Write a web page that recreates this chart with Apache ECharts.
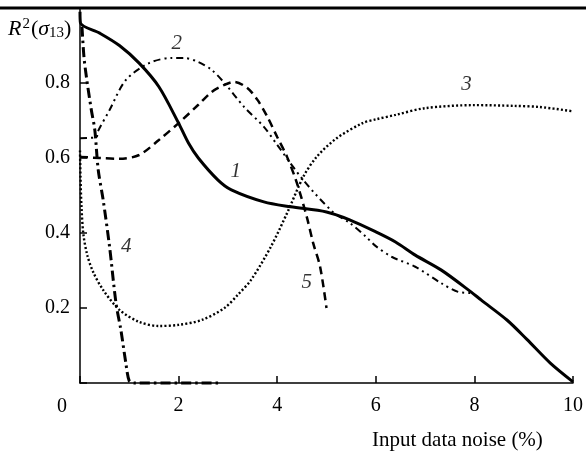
<!DOCTYPE html>
<html><head><meta charset="utf-8">
<script src="https://cdn.jsdelivr.net/npm/echarts@6/dist/echarts.min.js"></script>
<style>html,body{margin:0;padding:0;background:#fff}#c{width:586px;height:455px}</style>
</head><body><div id="c"></div>
<script>
const xTicks = [0, 2, 4, 6, 8, 10];
const yTicks = [0.2, 0.4, 0.6, 0.8];
const curve1 = [[0,0.99],[0.01,0.96],[0.4,0.933],[0.8,0.9],[1.2,0.853],[1.6,0.79],[2.0,0.693],[2.2,0.64],[2.4,0.6],[2.8,0.541],[3.07,0.515],[3.73,0.483],[4.27,0.47],[5.0,0.456],[5.47,0.435],[6.0,0.403],[6.4,0.376],[6.8,0.341],[7.33,0.301],[7.93,0.243],[8.14,0.221],[8.66,0.168],[9.06,0.117],[9.54,0.053],[10,0.003]];
const curve2 = [[0,0.653],[0.33,0.655],[0.36,0.67],[0.6,0.728],[0.93,0.808],[1.4,0.853],[1.87,0.867],[2.1,0.867],[2.4,0.856],[2.67,0.835],[2.93,0.8],[3.33,0.736],[3.73,0.683],[4.0,0.635],[4.53,0.541],[5.13,0.456],[5.47,0.427],[5.8,0.39],[6.0,0.365],[6.33,0.336],[6.8,0.31],[7.33,0.266],[7.67,0.243],[7.95,0.24]];
const curve3 = [[0,0.62],[0.01,0.55],[0.03,0.47],[0.07,0.395],[0.15,0.34],[0.27,0.295],[0.47,0.248],[0.8,0.195],[1.2,0.163],[1.6,0.152],[2.0,0.155],[2.47,0.168],[2.93,0.2],[3.2,0.235],[3.47,0.275],[3.87,0.363],[4.2,0.453],[4.53,0.55],[4.8,0.603],[5.2,0.652],[5.73,0.693],[6.0,0.703],[6.4,0.715],[7.0,0.733],[8.0,0.741],[8.8,0.739],[9.33,0.736],[9.97,0.725]];
const curve4 = [[0.04,0.95],[0.08,0.87],[0.13,0.816],[0.23,0.728],[0.3,0.675],[0.37,0.568],[0.47,0.488],[0.6,0.363],[0.73,0.213],[0.83,0.141],[0.93,0.053],[1.0,0.005],[1.1,0.0],[2.86,0.0]];
const curve5 = [[0,0.603],[0.4,0.6],[0.8,0.598],[1.2,0.608],[1.6,0.648],[2.0,0.693],[2.4,0.742],[2.67,0.776],[2.93,0.795],[3.13,0.803],[3.4,0.786],[3.6,0.755],[3.8,0.71],[4.0,0.656],[4.2,0.603],[4.4,0.533],[4.6,0.443],[4.73,0.373],[4.87,0.31],[5.0,0.2]];
const curveLabels = [[3.16,0.563,'1'],[1.96,0.906,'2'],[7.84,0.795,'3'],[0.94,0.363,'4'],[4.6,0.267,'5']];

const FONT = '"Liberation Serif", "Times New Roman", serif';
const chart = echarts.init(document.getElementById('c'), null, {renderer:'canvas'});
function line(data, width, type) {
  return {type:'line', data:data, smooth:0.3, symbol:'none', clip:false, z:3,
    lineStyle:{color:'#000', width:width, type:type, cap:'butt'}};
}
chart.setOption({
  animation:false,
  backgroundColor:'#fff',
  grid:{left:80, right:5, top:8, bottom:72, containLabel:false},
  xAxis:{type:'value', min:0, max:10, interval:2,
    axisLine:{lineStyle:{color:'#000', width:1.5}},
    axisTick:{inside:true, length:7, lineStyle:{color:'#000', width:1.5}},
    axisLabel:{color:'#000', fontFamily:FONT, fontSize:20, margin:13,
      formatter:v => v === 0 ? '' : String(v)},
    splitLine:{show:false}},
  yAxis:{type:'value', min:0, max:1, interval:0.2,
    axisLine:{show:true, lineStyle:{color:'#000', width:1.5}},
    axisTick:{show:true, inside:true, length:7, lineStyle:{color:'#000', width:1.5}},
    axisLabel:{color:'#000', fontFamily:FONT, fontSize:20, margin:10,
      formatter:v => (yTicks.some(t => Math.abs(t - v) < 1e-6)) ? v.toFixed(1) : ''},
    splitLine:{show:false}},
  series:[
    line(curve1, 3, 'solid'),
    line(curve2, 2, [7,4,2,4,2,4]),
    line(curve3, 2.4, [2,2.2]),
    line(curve4, 3, [10,4,2.5,4]),
    line(curve5, 2.5, [8,5]),
    {type:'scatter', data:curveLabels, symbolSize:0, z:5, silent:true,
      label:{show:true, position:'inside', formatter:p => p.data[2],
        fontFamily:FONT, fontStyle:'italic', fontSize:21, color:'#000', textBorderWidth:0}}
  ],
  graphic:[
    {type:'line', shape:{x1:0, y1:8, x2:586, y2:8}, style:{stroke:'#000', lineWidth:3}, z:10},
    {type:'text', x:62, y:407, style:{text:'0', font:'20px ' + FONT, fill:'#000', textAlign:'center', textVerticalAlign:'middle'}},
    {type:'text', x:372, y:440, style:{text:'Input data noise (%)', font:'21px ' + FONT, fill:'#000', textAlign:'left', textVerticalAlign:'middle'}},
    {type:'text', x:8, y:29, style:{
      text:'{i|R}{sup|2}{n|(}{i|σ}{sub|13}{n|)}', textVerticalAlign:'middle', fill:'#000',
      rich:{
        i:{fontFamily:FONT, fontStyle:'italic', fontSize:22, fill:'#000'},
        n:{fontFamily:FONT, fontSize:22, fill:'#000'},
        sup:{fontFamily:FONT, fontSize:15, fill:'#000', verticalAlign:'top', padding:[0,1,9,1]},
        sub:{fontFamily:FONT, fontSize:15, fill:'#000', verticalAlign:'bottom', padding:[9,0,0,0]}
      }}}
  ]
});
</script></body></html>
